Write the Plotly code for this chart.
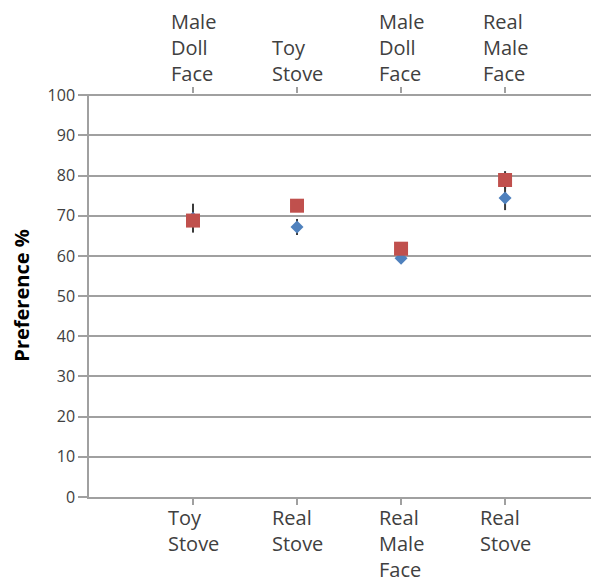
import plotly.graph_objects as go

positions = [1, 2, 3, 4]
bottom_labels = ["Toy<br>Stove", "Real<br>Stove", "Real<br>Male<br>Face", "Real<br>Stove"]
top_labels = ["Male<br>Doll<br>Face", "Toy<br>Stove", "Male<br>Doll<br>Face", "Real<br>Male<br>Face"]
blue_values = [69.4, 67.2, 59.4, 74.4]
blue_errors = [3.6, 2.0, 0.8, 3.0]
red_values = [68.8, 72.5, 61.8, 78.9]
red_errors = [1.5, 1.0, 0.8, 2.2]
y_ticks = [0, 10, 20, 30, 40, 50, 60, 70, 80, 90, 100]

FONT = "Open Sans"
GRID = "#a0a0a0"

fig = go.Figure()
fig.add_trace(go.Scatter(
    x=positions, y=blue_values, mode="markers",
    marker=dict(symbol="diamond", size=10, color="#4f81bd"),
    error_y=dict(type="data", array=blue_errors, color="#3a3a3a", thickness=2, width=0),
    showlegend=False, hoverinfo="skip"))
fig.add_trace(go.Scatter(
    x=positions, y=red_values, mode="markers",
    marker=dict(symbol="square", size=14, color="#c0504d"),
    error_y=dict(type="data", array=red_errors, color="#3a3a3a", thickness=2, width=0),
    showlegend=False, hoverinfo="skip"))
# invisible trace for the top category axis
fig.add_trace(go.Scatter(x=positions, y=[None]*4, xaxis="x2", mode="markers",
                         marker=dict(opacity=0), showlegend=False, hoverinfo="skip"))

fig.add_hline(y=50, line=dict(color="#262626", width=1.5), layer="below")

for xv, t in zip(positions, bottom_labels):
    fig.add_annotation(x=xv, xref="x", y=0, yref="paper", text=t, showarrow=False,
                       xanchor="center", yanchor="top", align="left", yshift=-5,
                       font=dict(family=FONT, size=20, color="#404040"))
for xv, t in zip(positions, top_labels):
    fig.add_annotation(x=xv, xref="x", y=1, yref="paper", text=t, showarrow=False,
                       xanchor="center", yanchor="bottom", align="left", yshift=5,
                       font=dict(family=FONT, size=20, color="#404040"))

fig.update_layout(
    width=599, height=585,
    margin=dict(l=81, r=0, t=86, b=96),
    paper_bgcolor="white", plot_bgcolor="white",
    font=dict(family=FONT, color="#404040"),
    xaxis=dict(range=[0, 4.98], tickvals=positions, showticklabels=False,
               ticks="outside", ticklen=6, tickcolor=GRID, tickwidth=1.5,
               showline=True, linecolor=GRID, linewidth=1.5,
               showgrid=False, zeroline=False, fixedrange=True),
    xaxis2=dict(range=[0, 4.98], tickvals=positions, showticklabels=False,
                overlaying="x", side="top", ticks="outside", ticklen=6,
                tickcolor=GRID, tickwidth=1.5, showline=False,
                showgrid=False, zeroline=False),
    yaxis=dict(range=[0, 100.3], tickvals=y_ticks, ticks="outside", ticklen=9,
               tickcolor=GRID, tickwidth=1.5,
               tickfont=dict(family=FONT, size=16, color="#404040"),
               showline=True, linecolor=GRID, linewidth=1.5,
               showgrid=True, gridcolor=GRID, gridwidth=1.5, zeroline=False,
               title=dict(text="<b>Preference %</b>", standoff=15,
                          font=dict(family=FONT, size=20, color="black"))),
)

fig.write_html("out.html")
